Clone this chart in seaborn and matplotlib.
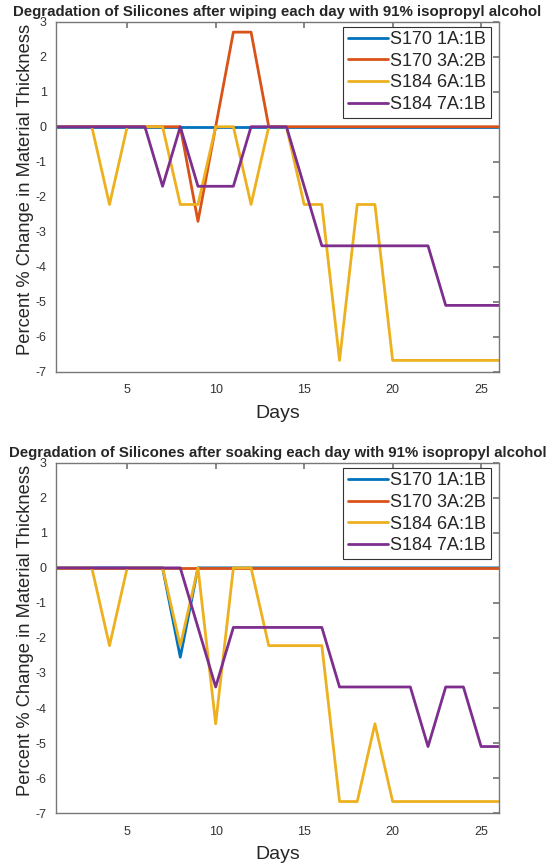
import matplotlib
matplotlib.use("Agg")
import matplotlib.pyplot as plt
import seaborn as sns
import pandas as pd

# Days 1..26
days = list(range(1, 27))
labels = ["S170 1A:1B", "S170 3A:2B", "S184 6A:1B", "S184 7A:1B"]
colors = ["#0072BD", "#D95319", "#EDB120", "#7E2F8E"]

# wiping
wipe_s170_1a1b = [0] * 26
wipe_s170_3a2b = [0, 0, 0, 0, 0, 0, 0, 0, -2.7, 0, 2.7, 2.7, 0,
                  0, 0, 0, 0, 0, 0, 0, 0, 0, 0, 0, 0, 0]
wipe_s184_6a1b = [0, 0, 0, -2.22, 0, 0, 0, -2.22, -2.22, 0, 0, -2.22, 0,
                  0, -2.22, -2.22, -6.67, -2.22, -2.22, -6.67, -6.67, -6.67, -6.67, -6.67, -6.67, -6.67]
wipe_s184_7a1b = [0, 0, 0, 0, 0, 0, -1.7, 0, -1.7, -1.7, -1.7, 0, 0,
                  0, -1.7, -3.4, -3.4, -3.4, -3.4, -3.4, -3.4, -3.4, -5.1, -5.1, -5.1, -5.1]

# soaking
soak_s170_1a1b = [0, 0, 0, 0, 0, 0, 0, -2.55, 0, 0, 0, 0, 0,
                  0, 0, 0, 0, 0, 0, 0, 0, 0, 0, 0, 0, 0]
soak_s170_3a2b = [0] * 26
soak_s184_6a1b = [0, 0, 0, -2.22, 0, 0, 0, -2.22, 0, -4.45, 0, 0, -2.22,
                  -2.22, -2.22, -2.22, -6.67, -6.67, -4.45, -6.67, -6.67, -6.67, -6.67, -6.67, -6.67, -6.67]
soak_s184_7a1b = [0, 0, 0, 0, 0, 0, 0, 0, -1.7, -3.4, -1.7, -1.7, -1.7,
                  -1.7, -1.7, -1.7, -3.4, -3.4, -3.4, -3.4, -3.4, -5.1, -3.4, -3.4, -5.1, -5.1]

titles = ["Degradation of Silicones after wiping each day with 91% isopropyl alcohol",
          "Degradation of Silicones after soaking each day with 91% isopropyl alcohol"]


def to_frame(series):
    rows = []
    for name, vals in zip(labels, series):
        for d, v in zip(days, vals):
            rows.append({"Days": d, "value": v, "sample": name})
    return pd.DataFrame(rows)


def draw_panel(ax, df, title):
    sns.lineplot(data=df, x="Days", y="value", hue="sample", hue_order=labels,
                 palette=colors, linewidth=2, ax=ax, legend=True)
    ax.set_xlim(1, 26)
    ax.set_ylim(-7, 3)
    ax.set_xticks([5, 10, 15, 20, 25])
    ax.set_yticks(range(-7, 4))
    ax.tick_params(direction="in", top=True, right=True, length=4,
                   labelsize=9, colors="#777777", labelcolor="#333333")
    ax.tick_params(axis="x", pad=9)
    ax.tick_params(axis="y", pad=7)
    for sp in ax.spines.values():
        sp.set_color("#777777")
        sp.set_linewidth(1)
    ax.set_xlabel("Days", fontsize=14, color="#262626", labelpad=6)
    ax.set_ylabel("Percent % Change in Material Thickness", fontsize=13.2, color="#262626")
    ax.yaxis.set_label_coords(-0.05, 0.52)
    ax.set_title(title, fontsize=10.8, fontweight="bold", pad=4)
    leg = ax.legend(loc="upper right", bbox_to_anchor=(0.982, 0.986), borderaxespad=0,
                    fontsize=13, frameon=True, fancybox=False, framealpha=1,
                    edgecolor="#333333", handlelength=2.2, handletextpad=0.15,
                    labelspacing=0.26, borderpad=0.25)
    leg.get_frame().set_linewidth(0.8)
    ax.grid(False)


sns.set_theme(style="white")
plt.rcParams["font.family"] = ["Liberation Sans", "DejaVu Sans"]
plt.rcParams["axes.unicode_minus"] = False

fig = plt.figure(figsize=(5.53, 8.65), dpi=100)
ax1 = fig.add_axes([0.102, 0.570, 0.800, 0.405])
ax2 = fig.add_axes([0.102, 0.060, 0.800, 0.405])

draw_panel(ax1, to_frame([wipe_s170_1a1b, wipe_s170_3a2b, wipe_s184_6a1b, wipe_s184_7a1b]), titles[0])
draw_panel(ax2, to_frame([soak_s170_1a1b, soak_s170_3a2b, soak_s184_6a1b, soak_s184_7a1b]), titles[1])

fig.savefig("out.png", dpi=100)
